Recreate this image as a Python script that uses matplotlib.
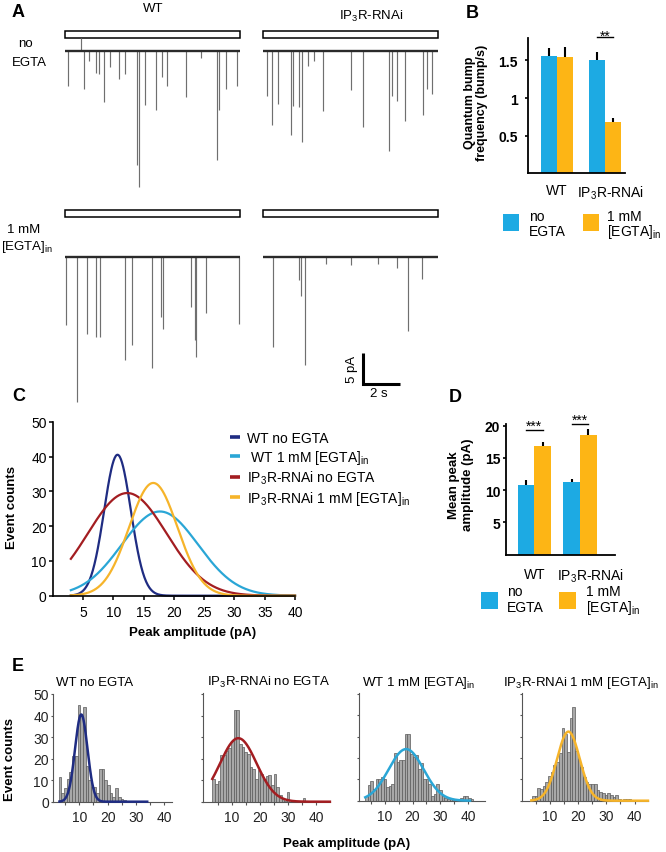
import numpy as np
import matplotlib
matplotlib.use("Agg")
import matplotlib.pyplot as plt
from matplotlib.patches import Rectangle
from matplotlib.lines import Line2D
import matplotlib.transforms as mtransforms

plt.rcParams['font.family'] = ['Liberation Sans', 'DejaVu Sans']
plt.rcParams['mathtext.fontset'] = 'custom'
plt.rcParams['mathtext.rm'] = 'Liberation Sans'
plt.rcParams['mathtext.it'] = 'Liberation Sans:italic'
plt.rcParams['mathtext.bf'] = 'Liberation Sans:bold'
plt.rcParams['mathtext.default'] = 'regular'

# ======================= DATA =======================
# Panel A: quantum bumps (event time in s, peak current in pA; inward = negative)
trace_duration = 9.5
wt_ctrl_t = [0.18, 0.85, 1.03, 1.31, 1.68, 1.82, 2.11, 2.47, 2.92, 3.24, 3.93, 4.02,
             4.32, 4.92, 5.28, 5.53, 6.54, 7.39, 8.23, 8.34, 8.74, 9.34]
wt_ctrl_amp = [-5.6, 2.1, -6.1, -1.5, -3.5, -3.7, -8.2, -2.6, -4.5, -3.7, -18.4, -21.9,
               -8.7, -9.4, -4.2, -5.6, -7.3, -1.0, -17.6, -9.4, -6.1, -5.6]
rnai_ctrl_t = [0.24, 0.49, 0.83, 1.53, 1.62, 1.98, 2.13, 2.43, 2.79, 3.24, 4.78, 5.44,
               6.81, 6.99, 7.24, 7.70, 8.69, 8.89, 9.19]
rnai_ctrl_amp = [-7.2, -11.9, -8.5, -13.5, -8.8, -9.0, -14.6, -2.3, -1.5, -9.7, -6.3, -12.2,
                 -16.0, -7.2, -8.0, -11.3, -10.3, -6.1, -6.9]
wt_egta_t = [0.05, 0.67, 1.17, 1.71, 1.89, 3.28, 3.64, 4.72, 5.19, 5.30, 6.81, 7.03,
             7.12, 7.64, 9.46]
wt_egta_amp = [-11.0, -23.5, -12.5, -12.9, -12.9, -16.7, -14.2, -18.0, -9.7, -11.6, -8.1, -13.5,
               -16.2, -9.0, -10.9]
rnai_egta_t = [0.54, 1.95, 2.07, 2.29, 3.42, 4.78, 6.22, 7.24, 7.89, 8.61]
rnai_egta_amp = [-14.5, -3.8, -6.3, -17.4, -1.2, -1.3, -1.2, -1.8, -12.0, -3.6]
scale_s = 2
scale_pA = 5

# Panel B: quantum bump frequency (bump/s)
genotypes = ['WT', 'IP$_3$R-RNAi']
freq_ctrl = [1.56, 1.50]
freq_ctrl_err = [0.10, 0.11]
freq_egta = [1.55, 0.68]
freq_egta_err = [0.13, 0.05]
freq_sig = ['', '**']
freq_sig_y = [0, 1.81]
freq_ticks = [0.5, 1, 1.5]
freq_ticklabels = ['0.5', '1', '1.5']

# Panel C: Gaussian fits of the amplitude distributions
fit_labels = ['WT no EGTA', ' WT 1 mM [EGTA]$_{in}$', 'IP$_3$R-RNAi no EGTA',
              'IP$_3$R-RNAi 1 mM [EGTA]$_{in}$']
fit_mean = [10.7, 17.7, 12.3, 16.6]
fit_sd = [2.2, 6.3, 6.5, 4.0]
fit_peak = [40.5, 24.2, 29.5, 32.4]
fit_lo = 3
fit_hi = 40

# Panel D: mean peak amplitude (pA)
amp_ctrl = [10.8, 11.3]
amp_ctrl_err = [0.7, 0.5]
amp_egta = [16.8, 18.6]
amp_egta_err = [0.7, 0.9]
amp_sig = ['***', '***']
amp_sig_y = [19.4, 20.3]
amp_ticks = [5, 10, 15, 20]

# Panel E: amplitude histograms (counts per bin)
hist_titles = ['WT no EGTA', 'IP$_3$R-RNAi no EGTA', 'WT 1 mM [EGTA]$_{in}$',
               'IP$_3$R-RNAi 1 mM [EGTA]$_{in}$']
hist_bin_width = 0.95
hist_first_center = [3.2, 3.5, 3.4, 4.2]
hist_wt_ctrl = [11.5, 4, 6.5, 10.4, 14, 21, 21, 45, 40, 44, 16.4, 10, 7, 7, 4, 15, 15, 10,
                7.6, 4, 2, 6.5, 2, 1.4, 1, 0.5]
hist_rnai_ctrl = [10.7, 8, 9.5, 21.5, 21.5, 23.5, 25, 28, 42.5, 42.5, 27, 25.4, 23, 22, 16,
                  15, 10.7, 14.6, 12.7, 10.7, 11.8, 12.2, 7.6, 12.7, 6.8, 3, 1.4, 0.5, 4.5,
                  0, 0, 0, 0, 0, 1.5]
hist_wt_egta = [2.2, 7.3, 9.3, 5.7, 10.4, 10.4, 11, 10, 6.5, 6.8, 7.6, 22.3, 18.1, 19, 19.2,
                31.3, 31.3, 22, 20.5, 21.2, 15, 17.7, 10.4, 10.4, 8, 2.2, 3.1, 8, 5, 2.2,
                1.5, 1, 1, 0.5, 0.5, 1, 1.4, 2.2, 2.2, 1.4, 0.6]
hist_rnai_egta = [2, 2, 6, 5.6, 7.1, 8.7, 11.8, 13.3, 16.9, 18, 22.6, 34, 31.2, 23, 38.6,
                  43.9, 23.4, 19.5, 15.7, 11, 8.7, 7.9, 7.9, 7.6, 4.8, 4, 3.6, 2.5, 3.6,
                  2.9, 1.7, 2.5, 0.9, 0.5, 0.9, 0.9, 0.9, 0.5]
hist_fit_index = [0, 2, 1, 3]
hist_fit_lo = [3, 3, 3, 3.5]
hist_fit_hi = [34, 45, 40.7, 44.7]

# ======================= STYLE =======================
W, H = 666.0, 853.0
BLUE = '#1DAAE3'
ORANGE = '#FDB515'
fit_colors = ['#1F2C82', '#2AA6D6', '#A31D21', '#F6B42A']


def axrect(l, t, r, b):
    return [l / W, 1 - b / H, (r - l) / W, (b - t) / H]


def F(x, y):
    return x / W, 1 - y / H


def gaussian_fit(x, peak, mean, sd):
    return peak * np.exp(-0.5 * ((x - mean) / sd) ** 2)


fig = plt.figure(figsize=(W / 100, H / 100), dpi=100)

# panel letters
for letter, (x, y) in zip('ABCDE', [(18, 12.8), (472.7, 13.3), (18.3, 396.7),
                                    (455, 397.2), (18.3, 666.3)]):
    fig.text(*F(x, y), letter, fontsize=13, fontweight='bold', ha='center', va='center')

# ======================= PANEL A =======================
px_per_pA = 6.2
px_per_s = 18.45
trace_sets = [
    (wt_ctrl_t, wt_ctrl_amp, (64, 28, 242, 200), 52.3, (32, 39)),
    (rnai_ctrl_t, rnai_ctrl_amp, (262, 28, 440, 200), 52.3, (32, 39)),
    (wt_egta_t, wt_egta_amp, (64, 205, 242, 410), 257.7, (211, 218)),
    (rnai_egta_t, rnai_egta_amp, (262, 205, 440, 410), 257.7, (211, 218)),
]
trace_axes = []
for tt, aa, (l, t, r, b), base, (s0, s1) in trace_sets:
    ax = fig.add_axes(axrect(l, t, r, b))
    ax.set_xlim(-0.05, -0.05 + (r - l) / px_per_s)
    ax.set_ylim(-(b - base) / px_per_pA, (base - t) / px_per_pA)
    ax.axis('off')
    ax.vlines(tt, 0, aa, color='#6f6f6f', lw=0.85)
    ax.plot([0, trace_duration], [0, 0], color='#2a2a2a', lw=1.7, solid_capstyle='butt')
    tr = mtransforms.blended_transform_factory(ax.transData, ax.transAxes)
    ax.add_patch(Rectangle((0, (b - s1) / (b - t)), trace_duration, (s1 - s0) / (b - t),
                           transform=tr, facecolor='white', edgecolor='black', lw=1.1,
                           clip_on=False))
    trace_axes.append(ax)

axs = trace_axes[3]
sx0 = (363 - 262) / px_per_s - 0.05
sy0 = -(385 - 257.7) / px_per_pA
axs.plot([sx0, sx0, sx0 + scale_s], [sy0 + scale_pA, sy0, sy0], color='black', lw=2.2,
         solid_joinstyle='miter', solid_capstyle='butt')
fig.text(*F(351.5, 369), '5 pA', rotation=90, ha='center', va='center', fontsize=9.5)
fig.text(*F(379, 394), '2 s', ha='center', va='center', fontsize=9.5)

fig.text(*F(153, 8.5), 'WT', ha='center', va='center', fontsize=9.5)
fig.text(*F(370.7, 16.5), 'IP$_3$R-RNAi', ha='center', va='center', fontsize=9.5)
fig.text(*F(25.8, 47.3), 'no', ha='center', va='baseline', fontsize=9.5)
fig.text(*F(29.7, 65.7), 'EGTA', ha='center', va='baseline', fontsize=9.5)
fig.text(*F(23.3, 232.7), '1 mM', ha='center', va='baseline', fontsize=9.5)
fig.text(*F(27, 250), '[EGTA]$_{in}$', ha='center', va='baseline', fontsize=9.5)


# ======================= PANELS B & D =======================
def bar_panel(rect, xlim, ylim, ctrl, ctrl_err, egta, egta_err, sig, sig_y, sig_dy,
              ticks, ticklabels, bw, ypad, xpad, label_shift):
    ax = fig.add_axes(rect)
    xg = np.arange(len(genotypes))
    ax.bar(xg - bw / 2, ctrl, bw, color=BLUE, zorder=2)
    ax.bar(xg + bw / 2, egta, bw, color=ORANGE, zorder=2)
    ax.errorbar(xg - bw / 2, ctrl, yerr=[np.zeros(len(ctrl)), ctrl_err], fmt='none',
                ecolor='black', elinewidth=1.5, capsize=0, zorder=1)
    ax.errorbar(xg + bw / 2, egta, yerr=[np.zeros(len(egta)), egta_err], fmt='none',
                ecolor='black', elinewidth=1.5, capsize=0, zorder=1)
    for i, s in enumerate(sig):
        if s:
            ax.plot([xg[i] - bw / 2, xg[i] + bw / 2], [sig_y[i], sig_y[i]], color='black',
                    lw=1.0, clip_on=False)
            trs = mtransforms.offset_copy(ax.transData, fig=fig, x=0, y=sig_dy, units='dots')
            ax.text(xg[i], sig_y[i], s, transform=trs, ha='center', va='baseline',
                    fontsize=10, clip_on=False)
    ax.set_xlim(*xlim)
    ax.set_ylim(*ylim)
    ax.set_yticks(ticks)
    ax.set_yticklabels(ticklabels, fontweight='bold', fontsize=10)
    ax.set_xticks(xg)
    ax.set_xticklabels(genotypes, fontsize=10)
    ax.tick_params(axis='x', length=0, pad=xpad)
    ax.tick_params(axis='y', length=2.4, width=1.2, pad=ypad)
    lbl = ax.get_xticklabels()[1]
    lbl.set_transform(lbl.get_transform() +
                      mtransforms.ScaledTranslation(label_shift / 100, 0, fig.dpi_scale_trans))
    for s in ['top', 'right']:
        ax.spines[s].set_visible(False)
    for s in ['left', 'bottom']:
        ax.spines[s].set_linewidth(1.3)
    return ax


axB = bar_panel(axrect(528.3, 39.3, 625, 174.4), (-0.604, 1.415), (0, 1.792),
                freq_ctrl, freq_ctrl_err, freq_egta, freq_egta_err, freq_sig, freq_sig_y,
                -3.3, freq_ticks, freq_ticklabels, 0.333, 5.3, 7.0, 5)
axB.set_ylabel('Quantum bump\nfrequency (bump/s)', fontsize=9, fontweight='bold',
               linespacing=1.1)
axB.yaxis.set_label_coords(*F(476, 103.3), transform=fig.transFigure)
axB.yaxis.label.set_va('center')

axD = bar_panel(axrect(506, 425, 615, 555.5), (-0.619, 1.766), (0, 20.27),
                amp_ctrl, amp_ctrl_err, amp_egta, amp_egta_err, amp_sig, amp_sig_y,
                0, amp_ticks, [str(v) for v in amp_ticks], 0.363, 1.7, 8.8, 11)
axD.set_ylabel('Mean peak\namplitude (pA)', fontsize=9.5, fontweight='bold')
axD.yaxis.set_label_coords(*F(461, 485), transform=fig.transFigure)
axD.yaxis.label.set_va('center')

cond_lines = [['no', 'EGTA'], ['1 mM', '[EGTA]$_{in}$']]
cond_colors = [BLUE, ORANGE]
# legend B
for sq_l, txt_x, col, lines in zip([503.3, 582.7], [529.3, 606.7], cond_colors, cond_lines):
    fig.add_artist(Rectangle(F(sq_l, 231.7), 16 / W, 16.7 / H, transform=fig.transFigure,
                             facecolor=col, edgecolor='none'))
    for ln, yb in zip(lines, [221.3, 235.8]):
        fig.text(*F(txt_x, yb), ln, ha='left', va='baseline', fontsize=10)
# legend D
for sq_l, txt_x, col, lines in zip([481, 559.3], [507.3, 586], cond_colors, cond_lines):
    fig.add_artist(Rectangle(F(sq_l, 610), 16.7 / W, 16.7 / H, transform=fig.transFigure,
                             facecolor=col, edgecolor='none'))
    for ln, yb in zip(lines, [596.3, 612.5]):
        fig.text(*F(txt_x, yb), ln, ha='left', va='baseline', fontsize=10)

# ======================= PANEL C =======================
axC = fig.add_axes(axrect(52.7, 422.7, 295, 596.7))
handles = []
for i in range(len(fit_mean)):
    xs = np.linspace(fit_lo, fit_hi, 400)
    axC.plot(xs, gaussian_fit(xs, fit_peak[i], fit_mean[i], fit_sd[i]), color=fit_colors[i],
             lw=1.6, clip_on=False)
    handles.append(Line2D([], [], color=fit_colors[i], lw=2.6, solid_capstyle='butt'))
axC.set_xlim(0, 40)
axC.set_ylim(0, 50)
axC.set_xticks(range(5, 41, 5))
axC.set_yticks(range(0, 51, 10))
axC.tick_params(axis='both', length=3, width=1.1, labelsize=10)
axC.tick_params(axis='x', pad=3.7)
axC.tick_params(axis='y', pad=1.3)
for s in ['top', 'right']:
    axC.spines[s].set_visible(False)
for s in ['left', 'bottom']:
    axC.spines[s].set_linewidth(1.2)
axC.set_xlabel('Peak amplitude (pA)', fontsize=9.5, fontweight='bold')
axC.xaxis.set_label_coords(*F(193, 633), transform=fig.transFigure)
axC.xaxis.label.set_va('center')
axC.set_ylabel('Event counts', fontsize=9.5, fontweight='bold')
axC.yaxis.set_label_coords(*F(11.7, 507.5), transform=fig.transFigure)
axC.yaxis.label.set_va('center')
axC.legend(handles, fit_labels, loc='upper left', bbox_to_anchor=F(230, 432),
           bbox_transform=fig.transFigure, frameon=False, fontsize=10, handlelength=0.75,
           handletextpad=0.45, labelspacing=0.2, borderpad=0, borderaxespad=0)

# ======================= PANEL E =======================
hist_data = [hist_wt_ctrl, hist_rnai_ctrl, hist_wt_egta, hist_rnai_egta]
e_rects = [(52.7, 695, 171.7, 802.7), (203.3, 694, 330, 802.7),
           (359, 694, 484.7, 801.7), (522.3, 694, 648, 801.7)]
e_xlims = [(0.6, 42.65), (-0.21, 45.04), (0.75, 45.97), (0.3, 44.72)]
e_title_x = [94.2, 269, 418.8, 580.5]
e_axes = []
for k in range(4):
    ax = fig.add_axes(axrect(*e_rects[k]))
    counts = hist_data[k]
    centers = hist_first_center[k] + hist_bin_width * np.arange(len(counts))
    ax.bar(centers, counts, width=hist_bin_width, facecolor='#a8a8a8', edgecolor='#5a5a5a',
           lw=0.5, zorder=2)
    fi = hist_fit_index[k]
    xs = np.linspace(hist_fit_lo[k], hist_fit_hi[k], 400)
    ax.plot(xs, gaussian_fit(xs, fit_peak[fi], fit_mean[fi], fit_sd[fi]), color=fit_colors[fi],
            lw=1.8, zorder=3, clip_on=False)
    ax.set_xlim(*e_xlims[k])
    ax.set_ylim(0, 50 if k == 0 else 50.5)
    ax.set_xticks([10, 20, 30, 40])
    ax.set_xticks([5, 15, 25, 35], minor=True)
    ax.set_yticks(range(0, 51, 10))
    ax.tick_params(axis='both', which='both', length=1.8, width=0.8, colors='#555555',
                   labelcolor='#222222', labelsize=10)
    ax.tick_params(axis='x', pad=4.0)
    ax.tick_params(axis='y', pad=1.0)
    if k > 0:
        ax.tick_params(axis='y', labelleft=False)
    for s in ['top', 'right']:
        ax.spines[s].set_visible(False)
    for s in ['left', 'bottom']:
        ax.spines[s].set_linewidth(0.8)
        ax.spines[s].set_color('#555555')
    fig.text(*F(e_title_x[k], 686), hist_titles[k], ha='center', va='baseline', fontsize=9.5)
    e_axes.append(ax)

e_axes[0].set_ylabel('Event counts', fontsize=9.5, fontweight='bold')
e_axes[0].yaxis.set_label_coords(*F(10.5, 760), transform=fig.transFigure)
e_axes[0].yaxis.label.set_va('center')
e_axes[0].set_xlabel('Peak amplitude (pA)', fontsize=9.5, fontweight='bold')
e_axes[0].xaxis.set_label_coords(*F(347, 844), transform=fig.transFigure)
e_axes[0].xaxis.label.set_va('center')

fig.savefig('out.png', dpi=100)
